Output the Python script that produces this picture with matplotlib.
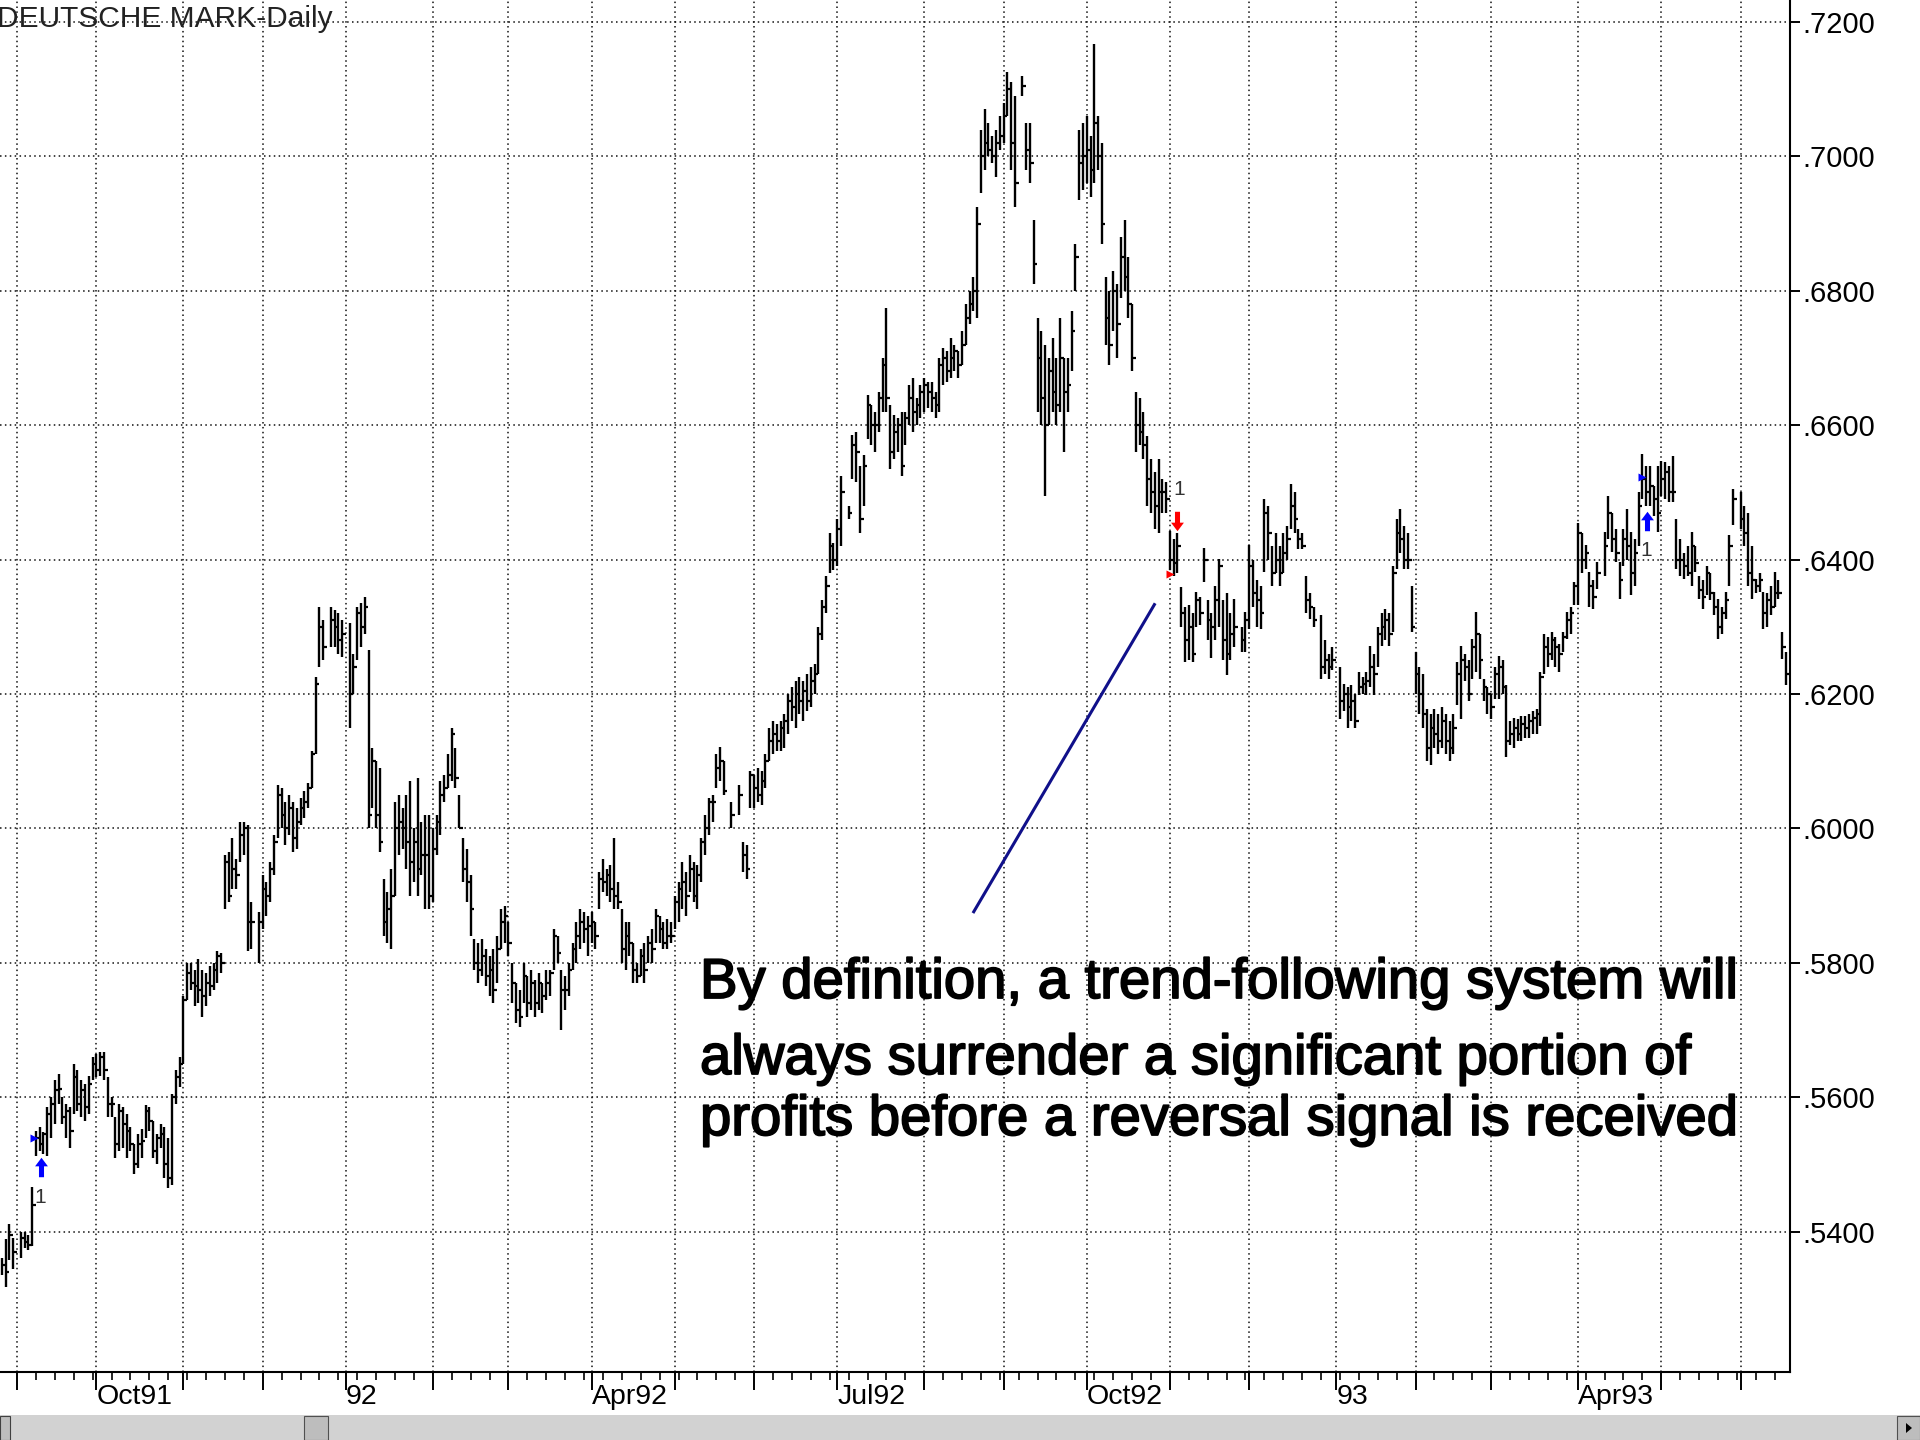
import numpy as np
import pandas as pd
import matplotlib
matplotlib.use("Agg")
import matplotlib.pyplot as plt
from matplotlib.path import Path
from matplotlib.patches import Rectangle, Polygon
import matplotlib.ticker as mticker
import matplotlib.patheffects as pe

plt.rcParams['font.family'] = ['Liberation Sans', 'DejaVu Sans']

# ---------------- data (prices in pips, 1 pip = 0.0001) ----------------
START = '1991-08-27'   # first weekday shown

HIGH = [
    5360, 5389, 5411, 5390, None, 5400, 5400, 5395, 5466, 5550,
    5556, 5548, 5585, 5600, 5625, 5635, 5600, 5590, 5585, 5650,
    5640, 5625, 5620, 5632, 5660, 5665, 5668, 5668, 5630, 5600,
    5570, 5590, 5585, 5575, 5555, 5530, 5545, 5552, 5588, 5585,
    5565, 5545, 5560, 5555, 5540, 5605, 5640, 5660, 5750, 5800,
    5800, 5790, 5805, 5790, 5785, 5795, 5800, 5818, 5815, 5960,
    5965, 5985, 5955, 6010, 6010, 6005, 5890, None, 5875, 5930,
    5920, 5950, 5990, 6065, 6060, 6040, 6050, 6040, 6030, 6045,
    6055, 6068, 6115, 6225, 6330, 6310, None, 6330, 6325, 6320,
    6310, None, 6305, 6260, 6330, 6335, 6345, 6266, 6120, 6100,
    6090, 5925, 5905, 5940, 6040, 6050, 6030, 6050, 6070, 6000,
    6075, 6010, 6020, 6020, 6000, 6020, 6070, 6080, 6110, 6150,
    6120, 6050, 5985, 5970, 5930, 5835, 5830, 5835, 5820, 5810,
    5820, 5840, 5880, 5885, 5860, 5800, 5770, 5760, 5800, 5780,
    5790, 5775, 5785, 5770, 5790, 5790, 5850, 5840, 5790, 5780,
    5800, 5830, 5860, 5880, 5875, 5870, 5875, 5860, 5935, 5955,
    5940, 5945, 5985, 5920, 5880, 5860, 5860, 5830, 5800, 5820,
    5830, 5840, 5850, 5880, 5870, 5860, 5865, 5860, 5900, 5920,
    5950, 5935, 5960, 5950, 5945, 5985, 6020, 6045, 6050, 6110,
    6121, 6100, None, 6040, None, 6065, 5980, 5975, 6085, 6080,
    6090, 6085, 6110, 6150, 6160, 6155, 6160, 6170, 6200, 6210,
    6220, 6225, 6220, 6230, 6240, 6245, 6300, 6340, 6375, 6440,
    6425, 6460, 6525, None, 6480, 6585, 6590, 6540, 6555, 6645,
    6630, 6620, 6650, 6700, 6775, 6630, 6615, 6610, 6620, 6620,
    6660, 6670, 6640, 6660, 6670, 6665, 6665, 6650, 6700, 6715,
    6710, 6730, 6720, 6710, 6740, 6780, 6800, 6820, 6925, 7040,
    7070, 7050, 7030, 7040, 7060, 7080, 7125, 7110, 7090, None,
    7120, 7050, 7050, 6905, 6760, 6740, 6720, 6700, 6730, 6700,
    6760, 6700, 6700, 6770, 6870, 7040, 7050, 7060, 7030, 7167,
    7060, 7020, 6820, 6800, 6830, 6810, 6880, 6905, 6850, 6780,
    6650, 6640, 6620, 6584, 6550, 6530, 6550, 6520, 6515, 6443,
    6430, 6440, 6359, 6330, 6332, 6320, 6352, 6345, 6418, 6340,
    6320, 6360, 6401, 6340, 6350, 6320, 6342, None, 6300, 6322,
    6421, 6400, 6370, 6360, 6490, 6480, 6420, 6440, 6420, 6440,
    6450, 6512, 6500, 6446, 6440, 6376, 6350, 6330, None, 6317,
    6280, 6260, 6270, None, 6240, 6215, 6210, 6213, 6200, 6233,
    6225, 6233, 6272, 6260, 6300, 6320, 6327, 6320, 6391, 6460,
    6475, 6450, 6440, 6361, 6262, 6240, 6230, 6178, 6170, 6178,
    6170, 6180, 6170, 6160, 6170, 6248, 6272, 6260, 6250, 6282,
    6322, 6290, 6223, 6210, 6200, 6240, 6257, 6250, 6213, 6160,
    6165, 6163, 6168, 6168, 6170, 6175, 6178, 6233, 6290, 6285,
    6292, 6285, 6275, 6292, 6322, 6330, 6366, 6455, 6440, 6421,
    6381, 6370, 6396, None, 6441, 6495, 6470, 6445, 6396, 6446,
    6475, 6441, 6430, 6500, 6557, 6540, 6540, 6510, 6540, 6546,
    6545, 6540, 6554, 6460, 6430, 6410, 6420, 6441, 6420, 6376,
    6370, 6391, 6380, 6352, 6342, 6330, 6352, 6436, 6505, None,
    6500, 6480, 6470, 6420, 6371, 6380, 6352, 6350, 6361, 6381,
    6370, 6292, 6262,
]

LOW = [
    5335, 5317, 5357, 5345, None, 5360, 5375, 5372, 5378, 5512,
    5520, 5515, 5512, 5540, 5560, 5590, 5560, 5540, 5525, 5575,
    5580, 5570, 5565, 5575, 5625, 5630, 5632, 5625, 5570, 5570,
    5510, 5520, 5525, 5510, 5520, 5485, 5495, 5510, 5540, 5550,
    5510, 5500, 5525, 5480, 5465, 5470, 5590, 5615, 5650, 5745,
    5760, 5735, 5740, 5720, 5735, 5750, 5760, 5770, 5785, 5880,
    5890, 5910, 5910, 5950, 5960, 5818, 5820, None, 5800, 5850,
    5870, 5890, 5930, 5985, 6000, 5975, 5990, 5965, 5970, 6005,
    6015, 6030, 6060, 6110, 6240, 6250, None, 6270, 6270, 6260,
    6255, None, 6150, 6200, 6250, 6270, 6290, 6000, 6030, 6000,
    5965, 5840, 5830, 5820, 5900, 5960, 5970, 5940, 5900, 5920,
    5900, 5930, 5880, 5880, 5890, 5960, 5990, 6040, 6060, 6070,
    6060, 6000, 5920, 5890, 5840, 5790, 5770, 5780, 5765, 5750,
    5740, 5770, 5820, 5830, 5810, 5740, 5710, 5705, 5740, 5720,
    5730, 5720, 5730, 5725, 5745, 5750, 5790, 5800, 5700, 5730,
    5750, 5790, 5800, 5820, 5830, 5810, 5830, 5820, 5880, 5905,
    5900, 5890, 5880, 5880, 5800, 5790, 5810, 5770, 5770, 5780,
    5770, 5800, 5800, 5830, 5830, 5820, 5820, 5830, 5850, 5860,
    5880, 5870, 5905, 5890, 5880, 5920, 5960, 5990, 6010, 6060,
    6070, 6050, None, 6000, None, 6020, 5935, 5925, 6030, 6030,
    6040, 6035, 6060, 6100, 6110, 6115, 6115, 6120, 6140, 6160,
    6150, 6170, 6160, 6175, 6180, 6200, 6230, 6280, 6320, 6380,
    6385, 6390, 6420, None, 6460, 6520, 6515, 6440, 6480, 6580,
    6570, 6560, 6590, 6620, 6620, 6535, 6550, 6560, 6525, 6570,
    6600, 6590, 6600, 6610, 6620, 6625, 6620, 6610, 6620, 6660,
    6665, 6670, 6680, 6670, 6690, 6720, 6750, 6770, 6760, 6945,
    6980, 7000, 6990, 6970, 7010, 7020, 7060, 6980, 6925, None,
    7090, 6980, 6960, 6810, 6620, 6600, 6495, 6600, 6620, 6600,
    6620, 6560, 6620, 6680, 6800, 6935, 6950, 6960, 6940, 6960,
    6980, 6870, 6720, 6690, 6740, 6700, 6790, 6800, 6760, 6680,
    6560, 6570, 6550, 6480, 6470, 6445, 6440, 6470, 6470, 6385,
    6376, 6380, 6300, 6248, 6250, 6248, 6300, 6302, 6366, 6280,
    6253, 6280, 6300, 6250, 6228, 6250, 6270, None, 6262, 6262,
    6297, 6330, 6300, 6297, 6381, 6400, 6361, 6380, 6361, 6380,
    6400, 6446, 6440, 6416, 6416, 6320, 6312, 6300, None, 6223,
    6230, 6223, 6235, None, 6163, 6175, 6150, 6160, 6149, 6198,
    6200, 6198, 6210, 6198, 6240, 6272, 6280, 6272, 6292, 6386,
    6410, 6386, 6386, 6292, 6200, 6170, 6149, 6100, 6094, 6120,
    6110, 6120, 6110, 6100, 6110, 6183, 6163, 6220, 6190, 6223,
    6232, 6223, 6190, 6170, 6163, 6193, 6193, 6200, 6106, 6124,
    6120, 6130, 6130, 6135, 6135, 6140, 6140, 6153, 6230, 6240,
    6250, 6240, 6233, 6262, 6282, 6290, 6332, 6332, 6380, 6386,
    6330, 6327, 6356, None, 6376, 6430, 6411, 6396, 6342, 6391,
    6400, 6347, 6360, 6420, 6490, 6480, 6480, 6465, 6441, 6495,
    6490, 6485, 6485, 6386, 6376, 6371, 6376, 6361, 6381, 6342,
    6327, 6347, 6340, 6317, 6282, 6290, 6312, 6361, 6451, None,
    6446, 6420, 6361, 6342, 6350, 6352, 6297, 6300, 6317, 6330,
    6342, 6252, 6213,
]

CLOSE = [
    5350, 5340, 5395, 5370, None, 5390, 5385, 5380, 5440, 5540,
    5530, 5545, 5575, 5590, 5610, 5612, 5570, 5580, 5550, 5630,
    5590, 5610, 5585, 5620, 5650, 5640, 5660, 5640, 5590, 5590,
    5530, 5580, 5560, 5550, 5530, 5500, 5530, 5535, 5580, 5565,
    5520, 5540, 5545, 5500, 5480, 5600, 5630, 5650, 5745, 5785,
    5770, 5765, 5760, 5750, 5770, 5765, 5790, 5810, 5800, 5950,
    5900, 5940, 5930, 5990, 6000, 5860, 5860, None, 5860, 5910,
    5900, 5940, 5980, 6050, 6020, 6000, 6030, 5985, 6010, 6030,
    6040, 6060, 6110, 6215, 6300, 6270, None, 6310, 6300, 6280,
    6290, None, 6200, 6240, 6320, 6300, 6330, 6020, 6100, 6020,
    5980, 5860, 5880, 5900, 6000, 6010, 6000, 5980, 5950, 5980,
    5940, 5960, 5960, 5900, 5970, 6010, 6050, 6060, 6080, 6140,
    6075, 6000, 5940, 5920, 5880, 5800, 5790, 5810, 5780, 5790,
    5760, 5820, 5860, 5870, 5830, 5770, 5730, 5720, 5780, 5740,
    5770, 5740, 5770, 5750, 5770, 5785, 5840, 5815, 5760, 5760,
    5790, 5820, 5840, 5860, 5850, 5855, 5860, 5840, 5925, 5920,
    5930, 5910, 5900, 5890, 5820, 5840, 5830, 5790, 5780, 5810,
    5790, 5830, 5820, 5870, 5850, 5830, 5840, 5840, 5890, 5910,
    5920, 5900, 5940, 5900, 5930, 5980, 6000, 6040, 6040, 6090,
    6100, 6055, None, 6020, None, 6050, 5960, 5940, 6080, 6060,
    6050, 6070, 6100, 6130, 6140, 6130, 6150, 6160, 6190, 6180,
    6200, 6190, 6205, 6190, 6220, 6230, 6290, 6330, 6360, 6420,
    6400, 6445, 6500, None, 6470, 6570, 6560, 6460, 6540, 6630,
    6600, 6600, 6640, 6690, 6640, 6560, 6590, 6600, 6540, 6610,
    6640, 6620, 6630, 6650, 6660, 6650, 6640, 6630, 6690, 6700,
    6680, 6700, 6710, 6690, 6720, 6760, 6780, 6800, 6900, 7000,
    7020, 7010, 7000, 7020, 7030, 7060, 7100, 7020, 6960, None,
    7105, 7010, 6990, 6840, 6700, 6640, 6600, 6680, 6650, 6630,
    6700, 6650, 6660, 6740, 6850, 6990, 7000, 7010, 6980, 7050,
    7000, 6900, 6760, 6720, 6800, 6750, 6850, 6820, 6780, 6700,
    6600, 6590, 6570, 6520, 6500, 6480, 6500, 6500, 6490, 6400,
    6395, 6420, 6320, 6280, 6300, 6260, 6340, 6320, 6400, 6310,
    6300, 6340, 6390, 6280, 6260, 6290, 6300, None, 6280, 6310,
    6390, 6350, 6340, 6320, 6470, 6440, 6380, 6400, 6380, 6410,
    6430, 6480, 6460, 6430, 6420, 6340, 6330, 6310, None, 6240,
    6250, 6240, 6250, None, 6190, 6200, 6180, 6190, 6160, 6210,
    6215, 6220, 6240, 6230, 6290, 6300, 6310, 6290, 6380, 6440,
    6430, 6400, 6400, 6300, 6230, 6200, 6170, 6120, 6150, 6140,
    6130, 6160, 6130, 6120, 6150, 6230, 6250, 6240, 6200, 6270,
    6290, 6250, 6210, 6200, 6180, 6230, 6240, 6210, 6130, 6140,
    6150, 6140, 6155, 6150, 6160, 6165, 6170, 6225, 6270, 6260,
    6280, 6270, 6260, 6285, 6310, 6320, 6360, 6440, 6400, 6410,
    6360, 6345, 6380, None, 6420, 6470, 6430, 6410, 6370, 6430,
    6420, 6380, 6410, 6480, 6520, 6500, 6510, 6490, 6470, 6520,
    6530, 6500, 6500, 6400, 6400, 6390, 6380, 6420, 6395, 6355,
    6345, 6380, 6350, 6330, 6300, 6320, 6340, 6420, 6490, None,
    6460, 6440, 6380, 6370, 6360, 6370, 6320, 6340, 6330, 6350,
    6350, 6270, 6230,
]

# signal markers: (bar position, price)
ENTRY_TRI = [(8.6, 0.5539, 'blue'), (309.0, 0.6379, 'red'), (433.9, 0.6523, 'blue')]
ARROWS = [(10.3, 0.5496, 'up', 'blue'), (310.8, 0.6458, 'down', 'red'), (435.2, 0.6457, 'up', 'blue')]
SIG_LABELS = [(10.1, 0.5451, '1'), (311.4, 0.6504, '1'), (435.0, 0.6413, '1')]
POINTER = [(256.9, 0.5874), (305.1, 0.6335)]
NOTE_LINES = ['By definition, a trend-following system will',
              'always surrender a significant portion of',
              'profits before a reversal signal is received']
TITLE = 'DEUTSCHE MARK-Daily'
YTICKS = [0.54, 0.56, 0.58, 0.60, 0.62, 0.64, 0.66, 0.68, 0.70, 0.72]

# ---------------- prepare ----------------
H = np.array(HIGH, dtype=float) / 1e4
L = np.array(LOW, dtype=float) / 1e4
C = np.array(CLOSE, dtype=float) / 1e4
n = len(H)
assert len(L) == n and len(C) == n
dates = pd.bdate_range(START, periods=n)
pos = np.arange(n)
ok = ~np.isnan(H)

W, HGT = 1920, 1440
fig = plt.figure(figsize=(W / 100, HGT / 100), dpi=100)
ax_right, ax_bottom_px = 1790, 1372
ax = fig.add_axes([0, (HGT - ax_bottom_px) / HGT, ax_right / W, ax_bottom_px / HGT])

ax.set_xlim(-0.5, 473.05)
ax.set_ylim(0.519107, 0.723274)

# bars (high-low with close tick)
ax.vlines(pos[ok], L[ok], H[ok], color='black', lw=1.7, zorder=3)
ax.hlines(C[ok], pos[ok], pos[ok] + 0.95, color='black', lw=1.6, zorder=3)

# month ticks
months = dates.to_period('M')
is_mstart = np.r_[False, np.asarray(months[1:] != months[:-1])]
mpos = pos[is_mstart]
mdates = dates[is_mstart]
labels = []
for d in mdates:
    if d.month == 1:
        labels.append(d.strftime('%y'))
    elif d.month in (4, 7, 10):
        labels.append(d.strftime('%b%y'))
    else:
        labels.append('')
ax.set_xticks(mpos)
ax.set_xticklabels(labels, ha='left')
wk = pos[(dates.weekday == 0) & ~is_mstart]
ax.set_xticks(wk, minor=True)
ax.tick_params(axis='x', which='major', length=13, width=1.4, pad=-4.4,
               labelsize=20.5, direction='out')
ax.tick_params(axis='x', which='minor', length=5.5, width=1.2, direction='out')

# y axis on the right
ax.yaxis.tick_right()
ax.set_yticks(YTICKS)
ax.yaxis.set_major_formatter(mticker.FuncFormatter(lambda v, p: f'{v:.4f}'[1:]))
ax.tick_params(axis='y', which='major', length=7.2, width=1.4, pad=2, labelsize=21)

ax.grid(True, which='major', axis='both', color='#111111',
        linestyle=(0, (1, 2.2)), linewidth=1.1)
ax.set_axisbelow(True)

for s in ('top', 'left'):
    ax.spines[s].set_visible(False)
for s in ('right', 'bottom'):
    ax.spines[s].set_linewidth(1.5)
    ax.spines[s].set_color('black')

# title
ax.text(-3 / 1790, 1 - 27 / 1372, TITLE, transform=ax.transAxes, ha='left',
        va='baseline', fontsize=21.5, color='#222222')

# signal markers
up = Path([(0, 0.5), (0.33, 0.06), (0.13, 0.06), (0.13, -0.5), (-0.13, -0.5),
           (-0.13, 0.06), (-0.33, 0.06), (0, 0.5)],
          [Path.MOVETO] + [Path.LINETO] * 6 + [Path.CLOSEPOLY])
down = Path(up.vertices * np.array([1, -1]), up.codes)
for x, y, c in ENTRY_TRI:
    ax.plot([x], [y], marker='>', ms=6, color=c, mec='none', zorder=4)
for x, y, d, c in ARROWS:
    ax.plot([x], [y], marker=up if d == 'up' else down, ms=14, color=c,
            mec='none', zorder=4)
for x, y, t in SIG_LABELS:
    ax.text(x, y, t, ha='center', va='center', fontsize=15, color='#333333', zorder=4)

# pointer line and note
ax.plot([POINTER[0][0], POINTER[1][0]], [POINTER[0][1], POINTER[1][1]],
        color='#10108a', lw=2.2, zorder=4, solid_capstyle='butt')
for txt, ypx in zip(NOTE_LINES, (998, 1074, 1135)):
    ax.text(700 / 1790, (1372 - ypx) / 1372, txt, transform=ax.transAxes,
            ha='left', va='baseline', fontsize=40.5, color='black', zorder=5,
            path_effects=[pe.withStroke(linewidth=1.3, foreground='black')])

# scrollbar at the bottom of the window
sb = fig.add_axes([0, 0, 1, 25 / HGT])
sb.set_xlim(0, W)
sb.set_ylim(25, 0)
sb.axis('off')
sb.add_patch(Rectangle((0, 0), W, 25, facecolor='#d2d2d2', edgecolor='none'))
sb.add_patch(Rectangle((0, 1), 10, 24, facecolor='#bdbdbd', edgecolor='#404040', lw=0.8))
sb.add_patch(Rectangle((304, 1), 24, 24, facecolor='#bdbdbd', edgecolor='#505050', lw=0.8))
sb.add_patch(Rectangle((1897, 1), 23, 24, facecolor='#bdbdbd', edgecolor='#505050', lw=0.8))
sb.add_patch(Polygon([(1906, 8), (1906, 18), (1912, 13)], closed=True,
                     facecolor='black', edgecolor='none'))

fig.savefig('out.png', dpi=100)
